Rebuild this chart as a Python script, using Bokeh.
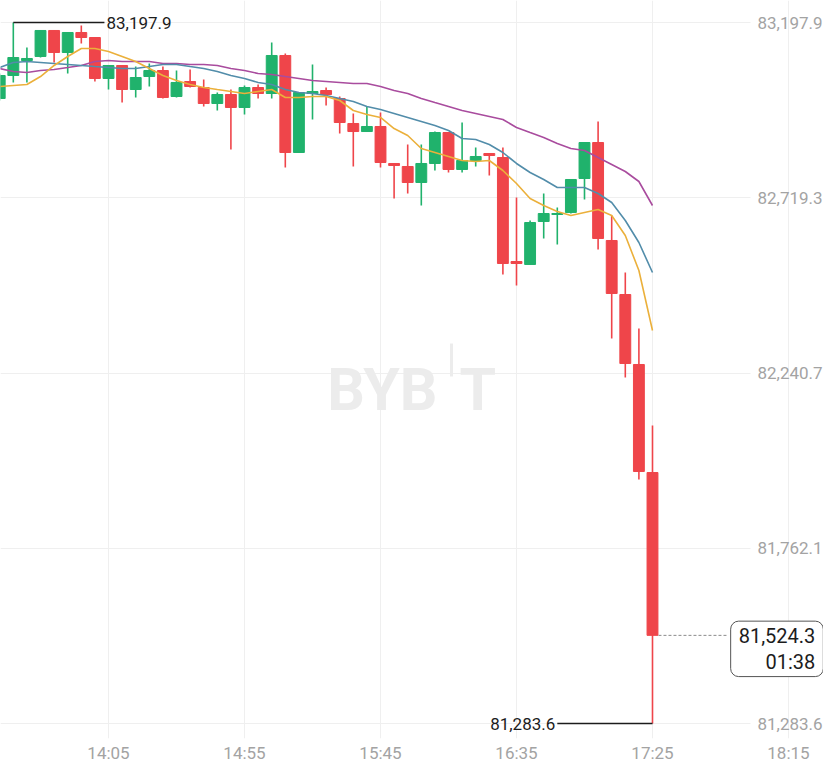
from bokeh.plotting import figure
from bokeh.models import Range1d, FixedTicker, NumeralTickFormatter, Label, ColumnDataSource
from bokeh.embed import file_html
from bokeh.resources import INLINE

# ---------------- data ----------------
times = ["13:25", "13:30", "13:35", "13:40", "13:45", "13:50", "13:55",
         "14:00", "14:05", "14:10", "14:15", "14:20", "14:25", "14:30", "14:35",
         "14:40", "14:45", "14:50", "14:55", "15:00", "15:05", "15:10", "15:15",
         "15:20", "15:25", "15:30", "15:35", "15:40", "15:45", "15:50", "15:55",
         "16:00", "16:05", "16:10", "16:15", "16:20", "16:25", "16:30", "16:35",
         "16:40", "16:45", "16:50", "16:55", "17:00", "17:05", "17:10", "17:15",
         "17:20", "17:25"]

opens = [82990.4, 83053.2, 83094.1, 83105.1, 83176.1, 83116.0, 83170.6, 83156.9,
         83045.0, 83080.5, 83014.9, 83050.4, 83066.8, 82995.8, 83036.8, 83020.4,
         82976.7, 83001.3, 82965.8, 83020.4, 83004.0, 83107.8, 82842.9, 83004.0,
         83012.2, 82990.4, 82922.1, 82900.2, 82913.9, 82812.9, 82804.7, 82761.0,
         82812.9, 82897.5, 82796.5, 82821.1, 82840.2, 82829.2, 82545.2, 82537.1,
         82654.5, 82673.6, 82679.1, 82771.9, 82870.2, 82602.6, 82455.1, 82264.0,
         81969.0]
highs = [83058.6, 83197.9, 83129.6, 83176.1, 83176.1, 83170.6, 83189.7, 83156.9,
         83080.5, 83080.5, 83077.7, 83085.9, 83077.7, 83066.8, 83069.6, 83042.2,
         83006.7, 83014.9, 83025.9, 83028.6, 83143.3, 83113.2, 83006.7, 83083.2,
         83020.4, 82995.8, 82949.4, 82968.5, 82952.1, 82812.9, 82864.7, 82864.7,
         82900.2, 82897.5, 82924.8, 82856.6, 82840.2, 82856.6, 82720.0, 82657.2,
         82730.9, 82692.7, 82769.2, 82870.2, 82927.5, 82670.9, 82515.2, 82362.3,
         82097.4]
lows = [82984.9, 83034.1, 83034.1, 83102.3, 83088.7, 83058.6, 83140.5, 83036.8,
        83014.9, 82979.4, 82993.1, 83023.1, 82990.4, 82993.1, 83020.4, 82968.5,
        82957.6, 82851.1, 82946.7, 82990.4, 82990.4, 82801.9, 82842.9, 82933.0,
        82971.2, 82894.8, 82804.7, 82900.2, 82801.9, 82717.3, 82730.9, 82698.2,
        82793.7, 82788.3, 82788.3, 82804.7, 82780.1, 82509.7, 82479.7, 82537.1,
        82608.1, 82591.7, 82676.3, 82714.5, 82578.0, 82335.0, 82228.5, 81949.9,
        81283.6]
closes = [83053.2, 83102.3, 83099.6, 83176.1, 83116.0, 83170.6, 83156.9, 83045.0,
          83080.5, 83014.9, 83047.7, 83066.8, 82993.1, 83034.1, 83023.1, 82976.7,
          83001.3, 82965.8, 83020.4, 83004.0, 83107.8, 82842.9, 83006.7, 83009.5,
          83001.3, 82924.8, 82900.2, 82913.9, 82815.6, 82807.4, 82761.0, 82812.9,
          82897.5, 82796.5, 82821.1, 82832.0, 82834.7, 82539.8, 82539.8, 82651.7,
          82676.3, 82676.3, 82769.2, 82870.2, 82608.1, 82457.9, 82266.7, 81971.8,
          81524.3]

ma_fast = [83023.1, 83025.9, 83028.6, 83050.4, 83080.5, 83105.1, 83126.9, 83126.9,
           83118.7, 83105.1, 83091.4, 83072.3, 83053.2, 83039.5, 83028.6, 83020.4,
           83014.9, 83009.5, 83004.0, 83009.5, 83014.9, 82993.1, 82993.1, 82995.8,
           82995.8, 82984.9, 82957.6, 82946.7, 82938.5, 82908.4, 82889.3, 82853.8,
           82842.9, 82832.0, 82821.1, 82818.3, 82821.1, 82793.7, 82758.2, 82717.3,
           82698.2, 82681.8, 82670.9, 82679.1, 82687.2, 82670.9, 82616.2, 82520.7,
           82356.8]
ma_mid = [83075.0, 83088.7, 83091.4, 83088.7, 83085.9, 83083.2, 83080.5, 83077.7,
          83075.0, 83072.3, 83072.3, 83077.7, 83083.2, 83083.2, 83077.7, 83072.3,
          83064.1, 83053.2, 83045.0, 83034.1, 83028.6, 83014.9, 83006.7, 83004.0,
          82998.6, 82990.4, 82982.2, 82968.5, 82960.3, 82949.4, 82938.5, 82927.5,
          82916.6, 82903.0, 82881.1, 82878.4, 82864.7, 82842.9, 82812.9, 82788.3,
          82769.2, 82747.3, 82747.3, 82747.3, 82730.9, 82706.4, 82657.2, 82597.1,
          82515.2]
ma_slow = [83072.3, 83064.1, 83061.4, 83066.8, 83069.6, 83075.0, 83080.5, 83091.4,
           83094.1, 83091.4, 83091.4, 83091.4, 83085.9, 83085.9, 83083.2, 83083.2,
           83080.5, 83072.3, 83066.8, 83058.6, 83055.9, 83050.4, 83045.0, 83039.5,
           83036.8, 83034.1, 83031.3, 83031.3, 83023.1, 83012.2, 83004.0, 82990.4,
           82979.4, 82968.5, 82957.6, 82949.4, 82941.2, 82933.0, 82911.2, 82897.5,
           82883.9, 82867.5, 82853.8, 82848.4, 82829.2, 82810.1, 82791.0, 82763.7,
           82698.2]

x_tick_labels = ["14:05", "14:55", "15:45", "16:35", "17:25", "18:15"]
y_ticks = [83197.9, 82719.3, 82240.7, 81762.1, 81283.6]
countdown = "01:38"

# ---------------- styles ----------------
UP = "#20B26C"
DOWN = "#EF454A"
C_FAST = "#EBB03B"
C_MID = "#528DAA"
C_SLOW = "#A94C9E"
GRID = "#efefef"
AXIS_TXT = "#a3a3a3"
DARK = "#1c1c1c"
FONT = "Roboto"


def to_min(s):
    h, m = s.split(":")
    return int(h) * 60 + int(m)


t = [to_min(s) for s in times]
x_ticks = [to_min(s) for s in x_tick_labels]

colors = [UP if c >= o else DOWN for o, c in zip(opens, closes)]
src = ColumnDataSource(dict(t=t, open=opens, high=highs, low=lows, close=closes, color=colors,
                            fast=ma_fast, mid=ma_mid, slow=ma_slow))

X0, X1 = 805.29, 1107.87
Y0, Y1 = 81242.65, 83257.98
AXIS_X = 1081.03

p = figure(width=823, height=782, x_range=Range1d(X0, X1), y_range=Range1d(Y0, Y1),
           output_backend="svg", toolbar_location=None, y_axis_location="right",
           min_border_left=0, min_border_right=0, min_border_top=0, min_border_bottom=44)
p.outline_line_color = None
p.background_fill_color = "white"
p.border_fill_color = "white"

# x axis
p.xaxis.ticker = FixedTicker(ticks=x_ticks)
p.xaxis.major_label_overrides = {k: v for k, v in zip(x_ticks, x_tick_labels)}
p.xaxis.axis_line_color = None
p.xaxis.major_tick_line_color = None
p.xaxis.minor_tick_line_color = None
p.xaxis.major_tick_out = 0
p.xaxis.major_tick_in = 0
p.xaxis.major_label_standoff = 4
p.xaxis.major_label_text_font = FONT
p.xaxis.major_label_text_font_size = "17px"
p.xaxis.major_label_text_color = AXIS_TXT

# y axis drawn inside the frame at the right
p.yaxis.fixed_location = AXIS_X
p.yaxis.ticker = FixedTicker(ticks=y_ticks)
p.yaxis.formatter = NumeralTickFormatter(format="0,0.0")
p.yaxis.axis_line_color = None
p.yaxis.major_tick_line_color = None
p.yaxis.minor_tick_line_color = None
p.yaxis.major_tick_out = 0
p.yaxis.major_tick_in = 0
p.yaxis.major_label_standoff = 7
p.yaxis.major_label_text_font = FONT
p.yaxis.major_label_text_font_size = "17px"
p.yaxis.major_label_text_color = AXIS_TXT

p.xgrid.grid_line_color = GRID
p.ygrid.grid_line_color = GRID
try:
    p.ygrid.cross_bounds = (X0, AXIS_X)
except Exception:
    pass

# watermark
WM = "#ececec"
p.add_layout(Label(x=965.96, y=82195.7, text="BYB", text_align="right", text_baseline="alphabetic",
                   text_font=FONT, text_font_style="bold", text_font_size="59px", text_color=WM,
                   level="underlay"))
p.add_layout(Label(x=974.04, y=82195.7, text="T", text_align="left", text_baseline="alphabetic",
                   text_font=FONT, text_font_style="bold", text_font_size="59px", text_color=WM,
                   level="underlay"))
p.segment(x0=[971.1], y0=[82321.3], x1=[971.1], y1=[82231.2], line_color=WM, line_width=3)

# candles
p.segment(x0="t", y0="high", x1="t", y1="low", source=src, line_color="color", line_width=1.6)
p.vbar(x="t", width=4.0, top="open", bottom="close", source=src,
       fill_color="color", line_color="color", line_width=1)

# moving averages
p.line("t", "slow", source=src, line_color=C_SLOW, line_width=1.6)
p.line("t", "mid", source=src, line_color=C_MID, line_width=1.6)
p.line("t", "fast", source=src, line_color=C_FAST, line_width=1.6)

# high marker
hi = max(highs)
t_hi = t[highs.index(hi)]
p.segment(x0=[t_hi], y0=[hi], x1=[t_hi + 33.5], y1=[hi], line_color=DARK, line_width=1.6)
p.add_layout(Label(x=t_hi + 33.5, y=hi, x_offset=2, text=f"{hi:,.1f}", text_align="left",
                   text_baseline="middle", text_font=FONT, text_font_size="17px", text_color=DARK))

# low marker
lo = min(lows)
t_lo = t[lows.index(lo)]
p.segment(x0=[t_lo - 35], y0=[lo], x1=[t_lo], y1=[lo], line_color=DARK, line_width=1.6)
p.add_layout(Label(x=t_lo - 35, y=lo, x_offset=-2, text=f"{lo:,.1f}", text_align="right",
                   text_baseline="middle", text_font=FONT, text_font_size="17px", text_color=DARK))

# last price line + box
last = closes[-1]
p.segment(x0=[t[-1] + 2.2], y0=[last], x1=[1072.6], y1=[last], line_color="#8a8a8a",
          line_width=1, line_dash="3 2")
box_kw = dict(x=1107.8, y=last, y_offset=-13.5, text=f"{last:,.1f}\n{countdown}",
              text_align="right", text_baseline="middle", text_font=FONT, text_font_size="20px",
              text_line_height=1.06,
              text_color=DARK, background_fill_color="white", border_line_color="#555555",
              border_line_width=1)
box = None
for extra in (dict(padding=dict(left=8, right=8, top=3, bottom=3), border_radius=8),
              dict(padding=8, border_radius=8), dict()):
    try:
        box = Label(**extra, **box_kw)
        break
    except Exception:
        continue
p.add_layout(box)

open("out.html", "w").write(file_html(p, INLINE))
